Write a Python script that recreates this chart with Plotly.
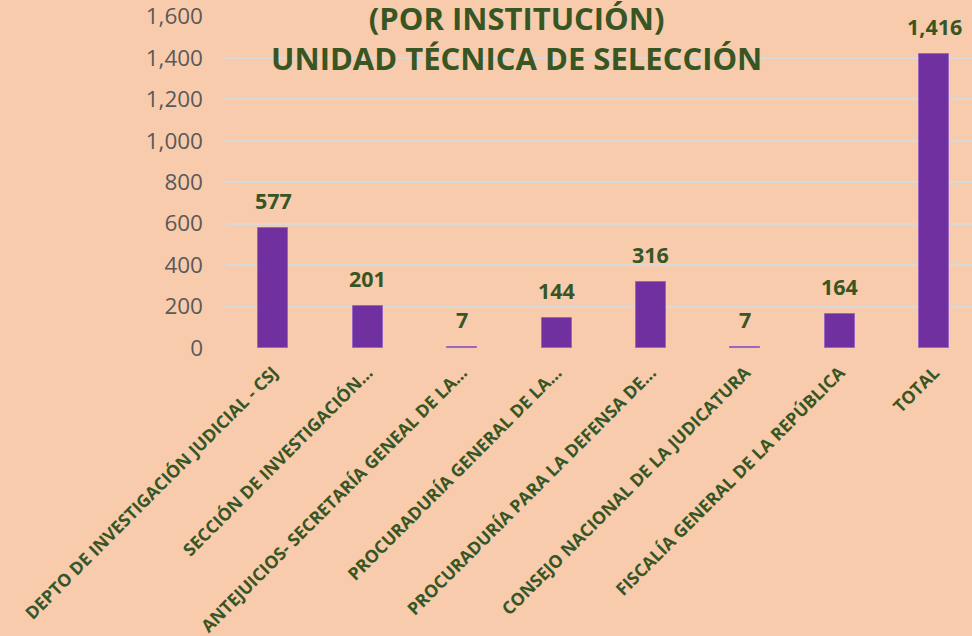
import plotly.graph_objects as go

categories = [
    "DEPTO DE INVESTIGACIÓN JUDICIAL - CSJ",
    "SECCIÓN DE INVESTIGACIÓN...",
    "ANTEJUICIOS- SECRETARÍA GENEAL DE LA...",
    "PROCURADURÍA GENERAL DE LA...",
    "PROCURADURÍA PARA LA DEFENSA DE...",
    "CONSEJO NACIONAL DE LA JUDICATURA",
    "FISCALÍA GENERAL DE LA REPÚBLICA",
    "TOTAL",
]
values = [577, 201, 7, 144, 316, 7, 164, 1416]
y_ticks = [0, 200, 400, 600, 800, 1000, 1200, 1400, 1600]
title_lines = ["(POR INSTITUCIÓN)", "UNIDAD TÉCNICA DE SELECCIÓN"]

BG = "#F8CBAD"
GREEN = "#375623"
PURPLE = "#7030A0"
FONT = "Open Sans"

fig = go.Figure()
fig.add_trace(go.Bar(
    x=list(range(len(categories))),
    y=values,
    width=0.317,
    marker=dict(color=PURPLE, line=dict(color="#9966C2", width=1)),
    hoverinfo="skip",
))

for i, v in enumerate(values):
    fig.add_annotation(
        x=i, y=v, text=f"<b>{v:,}</b>", showarrow=False,
        yanchor="bottom", yshift=11,
        font=dict(family=FONT, size=21.5, color=GREEN),
    )

fig.add_annotation(
    xref="paper", yref="paper", x=0.389, y=1.0,
    xanchor="center", yanchor="bottom", yshift=-65,
    text="<b>" + "<br>".join(title_lines) + "</b>",
    showarrow=False,
    font=dict(family=FONT, size=31, color=GREEN),
)

fig.update_layout(
    width=972, height=636,
    margin=dict(l=225.5, r=0, t=15.5, b=288.3, pad=0),
    paper_bgcolor=BG, plot_bgcolor=BG,
    showlegend=False,
    bargap=0,
    xaxis=dict(
        range=[-0.5, 7.399],
        tickmode="array",
        tickvals=list(range(len(categories))),
        ticktext=[f"<b>{c}</b>" for c in categories],
        tickangle=-45,
        tickfont=dict(family=FONT, size=17.5, color=GREEN),
        showgrid=False, zeroline=False, showline=False, ticks="",
        ticklabelstandoff=10,
    ),
    yaxis=dict(
        range=[0, 1601],
        tickvals=y_ticks,
        tickformat=",",
        tickfont=dict(family=FONT, size=22.5, color="#595959"),
        gridcolor="#D9D9D9", gridwidth=2,
        zeroline=False, showline=False, ticks="",
        ticklabelstandoff=22,
        ticklabeloverflow="allow",
    ),
)

fig.write_html(
    "out.html",
    config={"displayModeBar": False},
    post_script="document.body.style.margin='0';document.body.style.padding='0';",
)
